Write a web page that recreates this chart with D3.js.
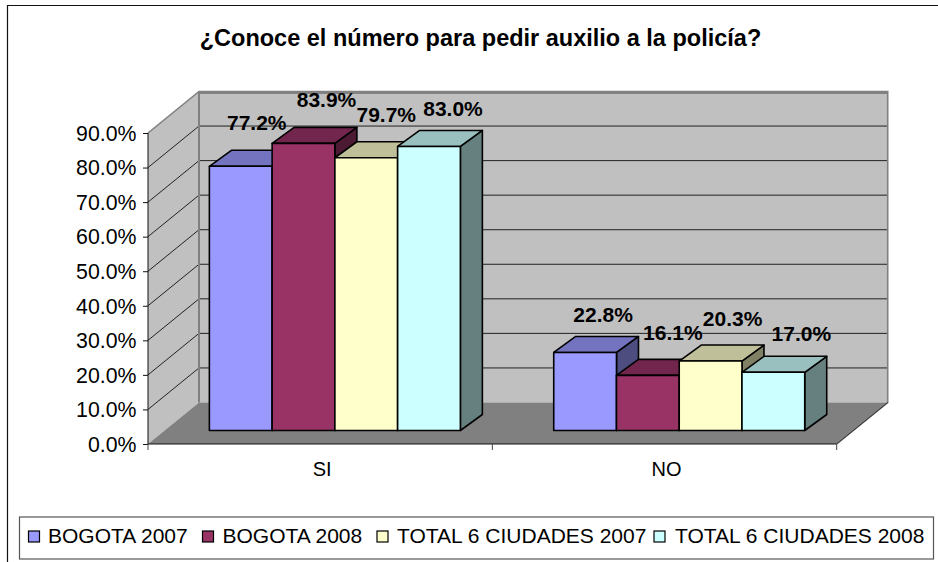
<!DOCTYPE html>
<html><head><meta charset="utf-8">
<script src="https://cdn.jsdelivr.net/npm/d3@7"></script>
<style>html,body{margin:0;background:#fff}svg{display:block}text{font-family:"Liberation Sans",Arial,sans-serif;fill:#000}</style>
</head><body><svg id="c" width="938" height="562"></svg>
<script>
const categories = ["SI","NO"];
const seriesNames = ["BOGOTA 2007","BOGOTA 2008","TOTAL 6 CIUDADES 2007","TOTAL 6 CIUDADES 2008"];
const seriesColors = ["#9999ff","#993366","#ffffcc","#ccffff"];
const topColors = ["#7373bf","#73264d","#bfbf99","#99bfbf"];
const sideColors = ["#4d4d80","#4d1a33","#808066","#668080"];
const bogota2007 = [77.2,22.8];
const bogota2008 = [83.9,16.1];
const total2007 = [79.7,20.3];
const total2008 = [83.0,17.0];
const seriesValues = [bogota2007,bogota2008,total2007,total2008];
const tickValues = [0,10,20,30,40,50,60,70,80,90];
const titleText = "¿Conoce el número para pedir auxilio a la policía?";

const svg = d3.select("#c");
const L=148,R=836.7,Y0=444,Y90=133,DX=51,DY=41.5,BDX=22,BDY=16,OX=14.7,BASE=430.5;
const y = d3.scaleLinear().domain([0,90]).range([Y0,Y90]);
const yBar = d3.scaleLinear().domain([0,90]).range([BASE,BASE-308]);
const x0 = d3.scaleBand().domain(categories).range([L,R]);
const bandW = 251/4;
const x1 = d3.scaleBand().domain(d3.range(4)).range([-2*bandW,2*bandW]);
const pts = a=>a.map(p=>p.join(",")).join(" ");

// frame: open on the right side, running off the canvas
svg.append("path").attr("d","M7.5 562V5.5H938").attr("fill","none").attr("stroke","#111").attr("stroke-width",1.2);

svg.append("text").attr("x",480.5).attr("y",46).attr("text-anchor","middle")
  .attr("font-size",23.5).attr("font-weight","bold").text(titleText);

// walls
const g = svg.append("g");
g.append("polygon").attr("points",pts([[L+DX,y(90)-DY],[R+DX,y(90)-DY],[R+DX,Y0-DY],[L+DX,Y0-DY]])).attr("fill","#c0c0c0");
g.append("polygon").attr("points",pts([[L,y(90)],[L+DX,y(90)-DY],[L+DX,Y0-DY],[L,Y0]])).attr("fill","#c0c0c0");
g.append("polygon").attr("points",pts([[L,Y0],[L+DX,Y0-DY],[R+DX,Y0-DY],[R,Y0]])).attr("fill","#808080");
// gridlines
tickValues.slice(1,-1).forEach(t=>{
  g.append("path").attr("d",`M${L} ${y(t)}L${L+DX} ${y(t)-DY}H${R+DX}`).attr("fill","none").attr("stroke","#222").attr("stroke-width",1);
});
g.append("path").attr("d",`M${L+DX} ${y(90)-DY+1.5}H${R+DX}`).attr("stroke","#444").attr("stroke-width",1);
g.append("path").attr("d",`M${L} ${y(90)}L${L+DX} ${y(90)-DY}H${R+DX}V${Y0-DY}L${R} ${Y0}`).attr("fill","none").attr("stroke","#808080").attr("stroke-width",1.6);
g.append("path").attr("d",`M${L+DX} ${y(90)-DY}V${Y0-DY}`).attr("stroke","#808080").attr("stroke-width",2);
g.append("path").attr("d",`M${R} ${Y0}L${R+DX} ${Y0-DY}`).attr("stroke","#333").attr("stroke-width",1);
g.append("path").attr("d",`M${L} ${y(90)}V${Y0}H${R}`).attr("fill","none").attr("stroke","#111").attr("stroke-width",1);

// axes
const ay = d3.axisLeft(y).tickValues(tickValues).tickSize(5).tickFormat(d=>d.toFixed(1)+"%");
const gy = svg.append("g").attr("transform",`translate(${L},0)`).call(ay);
gy.select(".domain").remove();
gy.selectAll("line").attr("stroke","#111");
gy.selectAll("text").attr("font-size",21.3).attr("x",-11.5).attr("dy","0.34em").style("font-family",'"Liberation Sans"');
const ax = d3.axisBottom(x0).tickSize(0).tickPadding(0);
const gx = svg.append("g").attr("transform",`translate(2,${Y0})`).call(ax);
gx.select(".domain").remove();
gx.selectAll("text").attr("font-size",20).style("font-family",'"Liberation Sans"').attr("y",32).attr("dy",0);
svg.append("g").selectAll("line").data(d3.range(3)).join("line")
  .attr("x1",i=>L+i*x0.step()).attr("x2",i=>L+i*x0.step()).attr("y1",Y0).attr("y2",Y0+6).attr("stroke","#444");

// bars; drawn in series order so that a later bar overlaps the earlier side face
categories.forEach((cat,ci)=>{
  const cx = x0(cat)+x0.bandwidth()/2+OX;
  d3.range(4).forEach(si=>{
    const v = seriesValues[si][ci];
    const xl = cx+x1(si), xr = xl+x1.bandwidth();
    const top = yBar(v);
    const gb = svg.append("g").attr("stroke","#000").attr("stroke-width",1.6).attr("stroke-linejoin","round");
    gb.append("polygon").attr("points",pts([[xr,top],[xr+BDX,top-BDY],[xr+BDX,BASE-BDY],[xr,BASE]])).attr("fill",sideColors[si]);
    gb.append("polygon").attr("points",pts([[xl,top],[xl+BDX,top-BDY],[xr+BDX,top-BDY],[xr,top]])).attr("fill",topColors[si]);
    gb.append("rect").attr("x",xl).attr("y",top).attr("width",xr-xl).attr("height",BASE-top).attr("fill",seriesColors[si]);
  });
});
// data labels, nudged individually as in the source chart: [series][category]
const labelDx = [[16,18],[23,25],[20,22],[24,28]];
const labelDy = [[-36,-30],[-36,-35],[-36,-35.5],[-30,-31]];
categories.forEach((cat,ci)=>{
  const cx = x0(cat)+x0.bandwidth()/2+OX;
  d3.range(4).forEach(si=>{
    const v = seriesValues[si][ci];
    svg.append("text").attr("x",cx+x1(si)+x1.bandwidth()/2+labelDx[si][ci]).attr("y",yBar(v)+labelDy[si][ci])
      .attr("text-anchor","middle").attr("font-size",21).attr("font-weight","bold").text(v.toFixed(1)+"%");
  });
});

// legend
svg.append("rect").attr("x",19.5).attr("y",517).attr("width",914).attr("height",42).attr("fill","#fff").attr("stroke","#555").attr("stroke-width",1.2);
const lx=[28.5,202.5,377,654], tx=[48,222.5,397,675];
seriesNames.forEach((n,i)=>{
  svg.append("rect").attr("x",lx[i]).attr("y",531).attr("width",11).attr("height",11).attr("fill",seriesColors[i]).attr("stroke","#000").attr("stroke-width",1.2);
  svg.append("text").attr("x",tx[i]).attr("y",542.5).attr("font-size",21).text(n);
});
</script></body></html>
